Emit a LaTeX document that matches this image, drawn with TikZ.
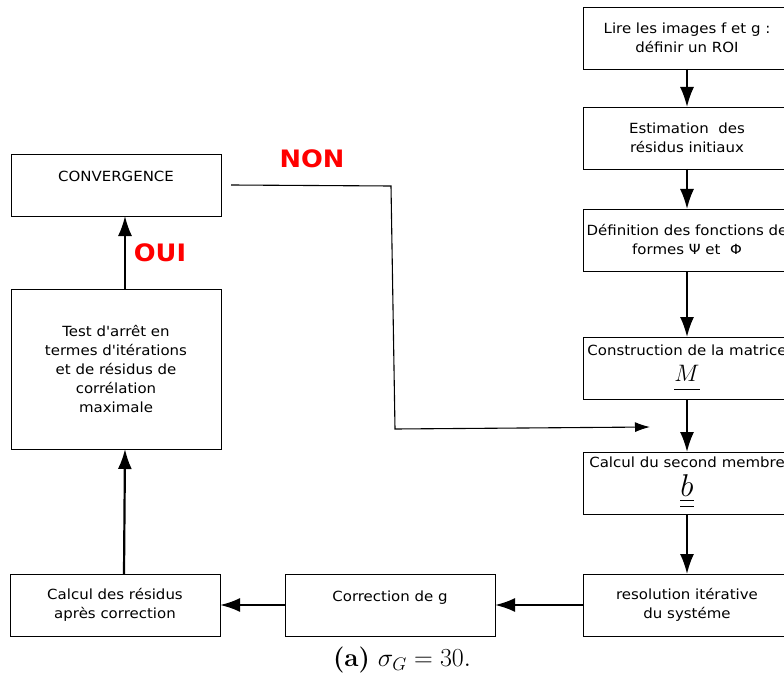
\documentclass[tikz,border=0pt]{standalone}
\usepackage{fix-cm}
\usepackage{fontspec}
\newfontfamily\boxfont[FakeStretch=1.07]{DejaVu Sans}
\usetikzlibrary{
  arrows.meta,
  positioning
}
\usepackage{xcolor}
\usepackage{amsmath,amssymb}
\definecolor{dicred}{HTML}{FF0000}

\begin{document}
\begin{tikzpicture}[
  x=1pt, y=-1pt,
  node distance=40pt,
  box/.style={draw, line width=0.8pt, outer sep=0pt, minimum width=208pt, minimum height=62pt,
    inner sep=1.5pt, font=\boxfont\fontsize{14}{19}\selectfont, align=center},
  lbox/.style={box, minimum width=210pt},
  topbox/.style={lbox, text depth=17pt},
  arrow/.style={-{Latex[length=20pt,width=14pt]}, line width=1.8pt},
  thinarrow/.style={-{Latex[length=15pt,width=10pt]}, line width=1.1pt},
  answer/.style={font=\boxfont\bfseries\fontsize{24}{28}\selectfont, text=dicred}
]

  \useasboundingbox (0,0) rectangle (784,679);
  \clip (0,0) rectangle (784,679);

  % --- Right column ---
  \node[box, anchor=north west] (read) at (583,7) {Lire les images f et g :\\définir un ROI};
  \node[box, below=38pt of read] (estim) {Estimation\ \ des\\résidus initiaux};
  \node[box, below=40pt of estim] (shape) {Définition des fonctions de\\formes Ψ et \ Φ};
  \node[box, below=66pt of shape] (matM)
    {Construction de la matrice\\[7pt]\scalebox{1.7}{$\underline{M\vphantom{y}}$}};
  \node[box, below=53pt of matM] (rhs)
    {Calcul du second membre\\[5pt]\scalebox{2.25}{$\underline{\underline{b}}$}};
  \node[box, below=60pt of rhs] (solve) {resolution itérative\\du systéme};

  % --- Left column ---
  \node[topbox, anchor=north west] (conv) at (11,154) {CONVERGENCE};
  \node[lbox, anchor=north west, minimum height=160pt] (test) at (11,289)
    {Test d'arrêt en\\termes d'itérations\\et de résidus de\\corrélation\\maximale};
  \node[lbox, anchor=north west] (resid) at (10,574) {Calcul des résidus\\après correction};
  \node[topbox, anchor=north west] (corr) at (285,574) {Correction de g};

  % --- Answers ---
  \node[answer] (yes) at (160,253) {OUI};
  \node[answer] (no) at (312,159) {NON};

  % --- Caption ---
  \node[font=\fontsize{26}{28}\selectfont] (cap) at (402,660) {\textbf{(a)} $\sigma_G = 30.$};

  % Right column arrows
  \draw[arrow] (read) -- (estim);
  \draw[arrow] (estim) -- (shape);
  \draw[arrow] (shape) -- (matM);
  \draw[arrow] (matM) -- (rhs);
  \draw[arrow] (rhs) -- (solve);

  % Bottom row
  \draw[arrow, line width=2.2pt] (solve) -- (corr);
  \draw[arrow, line width=2.2pt] (corr) -- (resid);

  % Left column
  \draw[arrow, line width=2.2pt] ([xshift=9pt]resid.north) -- ([xshift=9pt]test.south);
  \draw[arrow] ([xshift=9pt]test.north) -- ([xshift=9pt]conv.south);

  % Loop back
  \coordinate (back) at (650,427);
  \draw[thinarrow] ([xshift=10pt]conv.east) -- (391,186) -- (395,429) -- (back);

\end{tikzpicture}
\end{document}
